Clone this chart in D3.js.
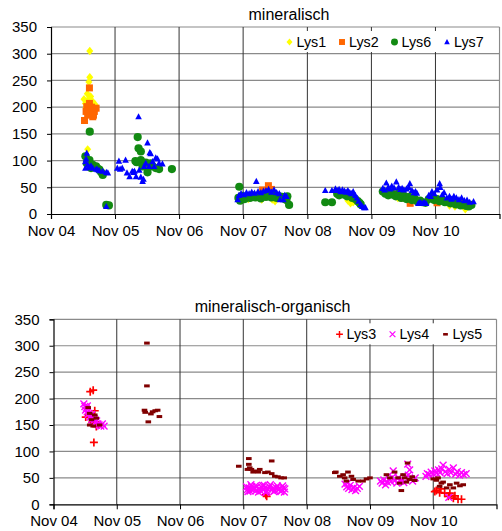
<!DOCTYPE html>
<html>
<head>
<meta charset="utf-8">
<script src="https://cdn.jsdelivr.net/npm/d3@7"></script>
<style>
  body { margin: 0; background: #fff; }
  text { font-family: "Liberation Sans", Arial, sans-serif; fill: #000; }
</style>
</head>
<body>
<svg id="chart" width="502" height="531"></svg>
<script>
'use strict';

// tick labels / axis values
var xTickDates = ['2004-11-01', '2005-11-01', '2006-11-01', '2007-11-01', '2008-11-01', '2009-11-01', '2010-11-01'];
var yTicks = [0, 50, 100, 150, 200, 250, 300, 350];

// mineralisch
var lys1 = [
  ['2005-06-10', 305], ['2005-06-10', 256], ['2005-06-05', 247], ['2005-05-27', 225], ['2005-05-08', 215],
  ['2005-05-29', 213], ['2005-06-27', 210], ['2005-05-16', 207], ['2005-07-06', 201], ['2005-06-15', 220],
  ['2005-05-29', 121], ['2005-07-10', 205], ['2005-05-20', 200],
  ['2007-12-01', 28], ['2008-02-15', 27], ['2008-04-15', 27], ['2008-05-01', 24],
  ['2009-06-20', 25], ['2009-07-05', 20], ['2009-07-20', 22],
  ['2010-04-01', 30], ['2010-06-15', 24],
  ['2011-01-20', 16], ['2011-02-20', 14], ['2011-04-20', 9]
];
var lys2 = [
  ['2005-06-08', 236], ['2005-05-11', 175], ['2005-05-24', 201], ['2005-06-05', 195], ['2005-06-17', 188],
  ['2005-07-06', 192], ['2005-06-27', 182], ['2005-05-29', 185], ['2005-07-16', 198], ['2005-06-08', 207],
  ['2005-05-20', 192], ['2005-06-20', 200], ['2005-07-01', 185],
  ['2008-02-20', 45], ['2008-03-24', 53], ['2008-04-10', 46],
  ['2010-03-01', 38], ['2010-05-01', 30], ['2010-06-10', 20],
  ['2010-11-10', 21], ['2011-01-15', 25], ['2011-03-20', 22]
];
var lys6 = [
  ['2005-06-10', 154], ['2005-05-16', 108], ['2005-05-24', 95], ['2005-06-08', 101], ['2005-06-27', 92],
  ['2005-07-16', 89], ['2005-08-04', 83], ['2005-08-23', 73], ['2005-06-17', 86], ['2005-09-12', 17],
  ['2005-09-27', 16], ['2005-07-25', 85], ['2005-08-14', 78],
  ['2006-03-10', 144], ['2006-03-15', 123], ['2006-03-28', 117], ['2006-03-04', 97], ['2006-03-28', 101],
  ['2006-04-25', 96], ['2006-05-23', 95], ['2006-06-21', 86], ['2006-07-10', 84], ['2006-05-05', 78],
  ['2006-09-21', 84], ['2006-04-07', 89], ['2006-05-23', 89], ['2006-02-25', 99], ['2006-06-01', 90],
  ['2007-10-10', 51], ['2007-10-05', 30], ['2007-10-15', 25], ['2007-10-25', 34], ['2007-11-10', 28],
  ['2007-11-25', 33], ['2007-12-10', 30], ['2007-12-25', 35], ['2008-01-10', 31], ['2008-01-25', 34],
  ['2008-02-10', 29], ['2008-02-25', 35], ['2008-03-10', 32], ['2008-03-25', 36], ['2008-04-10', 31],
  ['2008-04-25', 34], ['2008-05-10', 30], ['2008-05-25', 33], ['2008-06-10', 32], ['2008-06-25', 28],
  ['2008-07-10', 33], ['2008-07-20', 17], ['2008-07-05', 26],
  ['2009-02-11', 22], ['2009-03-21', 22], ['2009-04-20', 38], ['2009-05-01', 35], ['2009-05-15', 38],
  ['2009-06-01', 36], ['2009-06-15', 33], ['2009-07-01', 35], ['2009-07-15', 30], ['2009-08-01', 28],
  ['2009-08-15', 24], ['2009-09-01', 18], ['2009-08-25', 21],
  ['2010-01-05', 42], ['2010-01-20', 38], ['2010-02-05', 35], ['2010-02-20', 40], ['2010-03-05', 36],
  ['2010-03-20', 33], ['2010-04-05', 38], ['2010-04-20', 30], ['2010-05-05', 34], ['2010-05-20', 28],
  ['2010-06-05', 32], ['2010-06-20', 26], ['2010-07-05', 29], ['2010-07-20', 24], ['2010-08-05', 25],
  ['2010-08-20', 22], ['2010-09-05', 21],
  ['2010-09-24', 28], ['2010-10-10', 30], ['2010-10-25', 26], ['2010-11-10', 28], ['2010-11-25', 24],
  ['2010-12-10', 26], ['2010-12-25', 22], ['2011-01-10', 24], ['2011-01-25', 20], ['2011-02-10', 22],
  ['2011-02-25', 18], ['2011-03-10', 20], ['2011-03-25', 16], ['2011-04-10', 18], ['2011-04-25', 15],
  ['2011-05-10', 14], ['2011-05-25', 17]
];
var lys7 = [
  ['2005-05-24', 114], ['2005-05-16', 98], ['2005-05-29', 92], ['2005-06-08', 87], ['2005-06-27', 86],
  ['2005-07-16', 84], ['2005-08-04', 81], ['2005-08-23', 80], ['2005-09-12', 78], ['2005-09-21', 77],
  ['2005-05-16', 86], ['2005-09-12', 14], ['2005-06-17', 90], ['2005-07-25', 83], ['2005-05-20', 103],
  ['2005-11-14', 86], ['2005-11-23', 99], ['2005-12-12', 86], ['2005-12-31', 101], ['2006-01-08', 77],
  ['2006-01-23', 70], ['2006-02-07', 80], ['2006-02-20', 80], ['2006-03-01', 70], ['2006-03-15', 182],
  ['2006-03-19', 82], ['2006-03-28', 69], ['2006-04-07', 61], ['2006-04-12', 65], ['2006-04-25', 95],
  ['2006-05-05', 133], ['2006-05-18', 115], ['2006-05-23', 113], ['2006-06-03', 98], ['2006-06-21', 105],
  ['2006-07-10', 95], ['2006-07-29', 94], ['2006-04-16', 89], ['2006-05-14', 89], ['2006-06-12', 89],
  ['2006-07-01', 103], ['2005-11-30', 84], ['2006-02-14', 78],
  ['2007-10-01', 27], ['2007-10-08', 35], ['2007-10-20', 38], ['2007-11-05', 36], ['2007-11-20', 40],
  ['2007-12-05', 38], ['2007-12-20', 41], ['2008-01-05', 39], ['2008-01-15', 61], ['2008-01-25', 42],
  ['2008-02-10', 40], ['2008-02-25', 43], ['2008-03-10', 44], ['2008-03-25', 46], ['2008-04-10', 41],
  ['2008-04-25', 45], ['2008-05-10', 40], ['2008-05-25', 38], ['2008-05-29', 27], ['2008-06-17', 27],
  ['2008-06-25', 35], ['2008-07-05', 33],
  ['2009-02-11', 44], ['2009-03-21', 44], ['2009-04-10', 47], ['2009-04-20', 44], ['2009-05-01', 46],
  ['2009-05-10', 42], ['2009-05-20', 45], ['2009-06-01', 43], ['2009-06-10', 41], ['2009-06-20', 44],
  ['2009-07-01', 40], ['2009-07-10', 38], ['2009-07-20', 42], ['2009-08-01', 35], ['2009-08-10', 30],
  ['2009-08-20', 24], ['2009-09-01', 18], ['2009-09-10', 14], ['2009-09-20', 12], ['2009-09-28', 12],
  ['2010-01-05', 48], ['2010-01-15', 45], ['2010-01-25', 58], ['2010-02-05', 50], ['2010-02-15', 47],
  ['2010-02-25', 52], ['2010-03-10', 49], ['2010-03-23', 60], ['2010-04-05', 50], ['2010-04-15', 46],
  ['2010-04-25', 48], ['2010-05-05', 45], ['2010-05-20', 47], ['2010-06-01', 50], ['2010-06-08', 57],
  ['2010-06-20', 44], ['2010-07-01', 40], ['2010-07-10', 42], ['2010-07-18', 39], ['2010-07-26', 20],
  ['2010-08-05', 22], ['2010-08-16', 20], ['2010-08-28', 22], ['2010-09-08', 20],
  ['2010-09-24', 35], ['2010-10-05', 33], ['2010-10-12', 42], ['2010-10-25', 38], ['2010-11-10', 45],
  ['2010-11-25', 57], ['2010-11-28', 50], ['2010-12-10', 36], ['2010-12-20', 40], ['2011-01-05', 30],
  ['2011-01-20', 33], ['2011-02-01', 28], ['2011-02-14', 33], ['2011-02-28', 30], ['2011-03-15', 27],
  ['2011-03-30', 30], ['2011-04-15', 25], ['2011-04-30', 26], ['2011-05-15', 22], ['2011-06-06', 23]
];

// mineralisch-organisch
var lys3 = [
  ['2005-06-18', 216], ['2005-06-01', 213], ['2005-06-22', 117], ['2005-05-06', 165], ['2005-06-27', 177],
  ['2005-07-06', 147], ['2005-06-12', 155], ['2005-07-20', 150],
  ['2008-03-10', 18], ['2008-03-15', 15],
  ['2010-11-10', 24], ['2010-11-19', 26], ['2010-12-08', 22], ['2010-12-15', 29], ['2011-01-06', 21],
  ['2011-01-27', 15], ['2011-02-05', 21], ['2011-02-25', 11.5], ['2011-03-06', 16], ['2011-03-24', 9.6],
  ['2011-04-13', 9.6]
];
var lys4 = [
  ['2005-04-25', 190], ['2005-05-01', 185], ['2005-05-05', 178], ['2005-05-10', 182], ['2005-05-15', 175],
  ['2005-05-20', 170], ['2005-05-25', 172], ['2005-06-01', 165], ['2005-06-05', 168], ['2005-06-10', 160],
  ['2005-06-15', 163], ['2005-06-20', 158], ['2005-06-25', 162], ['2005-07-01', 155], ['2005-07-08', 158],
  ['2005-07-15', 152], ['2005-07-22', 150], ['2005-08-01', 148], ['2005-08-10', 152], ['2005-08-20', 148],
  ['2005-05-15', 186], ['2005-06-10', 170],
  ['2007-11-20', 33], ['2007-11-25', 28], ['2007-12-05', 31], ['2007-12-10', 25], ['2007-12-20', 34],
  ['2007-12-28', 28], ['2008-01-05', 30], ['2008-01-15', 26], ['2008-01-20', 33], ['2008-02-01', 29],
  ['2008-02-10', 25], ['2008-02-15', 32], ['2008-02-25', 28], ['2008-03-05', 31], ['2008-03-15', 25],
  ['2008-03-20', 29], ['2008-04-01', 33], ['2008-04-10', 27], ['2008-04-20', 30], ['2008-05-01', 26],
  ['2008-05-10', 31], ['2008-05-20', 28], ['2008-06-01', 30], ['2008-06-10', 27], ['2008-06-20', 31],
  ['2008-06-28', 29], ['2007-12-15', 37], ['2008-03-01', 36],
  ['2007-11-28', 24], ['2007-12-15', 29], ['2008-01-10', 35], ['2008-01-28', 23], ['2008-02-20', 36],
  ['2008-03-10', 22], ['2008-04-05', 37], ['2008-04-25', 24], ['2008-05-15', 35], ['2008-06-05', 24],
  ['2008-06-15', 35], ['2008-06-25', 23],
  ['2009-06-10', 38], ['2009-06-20', 33], ['2009-07-01', 30], ['2009-07-10', 36], ['2009-07-20', 28],
  ['2009-08-01', 32], ['2009-08-10', 26], ['2009-08-20', 30], ['2009-09-01', 34], ['2009-06-25', 40],
  ['2010-01-01', 44], ['2010-01-10', 40], ['2010-01-20', 46], ['2010-01-30', 37], ['2010-02-10', 42],
  ['2010-02-20', 48], ['2010-03-01', 43], ['2010-03-15', 63], ['2010-03-10', 51], ['2010-03-25', 45],
  ['2010-04-05', 40], ['2010-04-15', 50], ['2010-04-25', 44], ['2010-05-05', 47], ['2010-05-15', 41],
  ['2010-05-25', 52], ['2010-06-07', 76], ['2010-06-18', 65], ['2010-06-10', 55], ['2010-06-25', 48],
  ['2010-07-05', 44], ['2010-07-20', 50],
  ['2010-09-20', 53], ['2010-09-28', 58], ['2010-10-10', 56], ['2010-10-20', 61], ['2010-11-01', 57],
  ['2010-11-10', 63], ['2010-11-20', 59], ['2010-12-01', 65], ['2010-12-10', 60], ['2010-12-20', 67],
  ['2010-12-28', 74], ['2011-01-10', 62], ['2011-01-20', 58], ['2011-02-01', 66], ['2011-02-10', 60],
  ['2011-02-25', 69], ['2011-03-10', 57], ['2011-03-20', 62], ['2011-04-01', 55], ['2011-04-13', 60],
  ['2011-04-25', 56], ['2011-05-10', 58], ['2011-01-30', 13]
];
var lys5 = [
  ['2005-05-20', 183], ['2005-05-29', 172], ['2005-06-27', 169], ['2005-05-29', 150], ['2005-06-18', 148],
  ['2005-07-25', 150], ['2005-06-08', 160], ['2005-07-06', 163],
  ['2006-04-24', 305], ['2006-04-24', 224], ['2006-04-10', 178], ['2006-04-14', 174], ['2006-05-17', 171],
  ['2006-05-27', 175], ['2006-06-11', 177], ['2006-06-25', 178], ['2006-05-02', 156], ['2006-07-05', 166],
  ['2007-10-06', 72], ['2007-12-03', 86.5], ['2007-12-03', 75.6], ['2007-12-08', 69], ['2007-11-25', 66],
  ['2007-12-18', 66], ['2007-12-28', 61], ['2008-01-06', 63], ['2008-01-27', 61], ['2008-02-04', 66],
  ['2008-03-05', 60], ['2008-04-13', 82], ['2008-04-13', 58], ['2008-05-01', 53], ['2008-05-19', 52],
  ['2008-06-06', 50], ['2008-06-24', 50], ['2008-03-22', 61],
  ['2009-04-12', 60], ['2009-04-18', 61], ['2009-05-11', 53], ['2009-05-30', 56], ['2009-06-08', 50],
  ['2009-06-18', 44], ['2009-06-27', 61], ['2009-07-17', 53], ['2009-07-27', 47], ['2009-08-25', 44],
  ['2009-09-22', 44], ['2009-10-12', 48], ['2009-11-01', 50],
  ['2010-02-04', 56], ['2010-02-24', 50], ['2010-03-23', 61], ['2010-04-12', 50], ['2010-04-21', 40],
  ['2010-05-01', 26], ['2010-05-11', 56], ['2010-05-20', 50], ['2010-05-30', 42], ['2010-06-06', 78],
  ['2010-06-18', 47], ['2010-07-03', 52], ['2010-07-17', 45],
  ['2010-11-01', 48], ['2010-11-19', 45.5], ['2010-11-29', 50], ['2010-12-08', 34], ['2010-12-18', 40],
  ['2010-12-28', 42], ['2011-01-17', 31], ['2011-02-05', 37], ['2011-02-25', 31], ['2011-03-16', 40],
  ['2011-04-04', 35], ['2011-04-23', 37]
];

var parse = d3.timeParse('%Y-%m-%d');
var svg = d3.select('#chart');

// marker shapes
var shapes = {
  diamond: function (s) { s.append('path').attr('d', 'M0,-4.2L3.5,0L0,4.2L-3.5,0Z'); },
  square: function (s) { s.append('rect').attr('x', -3.5).attr('y', -3.5).attr('width', 7).attr('height', 7); },
  circle: function (s) { s.append('circle').attr('r', 4.1); },
  triangle: function (s) { s.append('path').attr('d', 'M0,-3.6L3.3,2.6L-3.3,2.6Z'); },
  plus: function (s) { s.append('path').attr('d', 'M-4,0H4M0,-4V4').attr('stroke-width', 1.7).attr('fill', 'none'); },
  cross: function (s) { s.append('path').attr('d', 'M-3.4,-3.4L3.4,3.4M-3.4,3.4L3.4,-3.4').attr('stroke-width', 1.4).attr('fill', 'none'); },
  dash: function (s) { s.append('rect').attr('x', -2.8).attr('y', -1.5).attr('width', 5.6).attr('height', 3); }
};

function marker(sel, shape, color) {
  sel.each(function () {
    var g = d3.select(this);
    shapes[shape](g);
    g.selectAll('*').attr('fill', function () {
      return d3.select(this).attr('fill') === 'none' ? 'none' : color;
    }).attr('stroke', (shape === 'plus' || shape === 'cross') ? color : 'none');
  });
}

function panel(opt) {
  var g = svg.append('g');
  var x = d3.scaleTime()
    .domain([parse('2004-11-01'), parse('2011-11-01')])
    .range([opt.left, opt.right]);
  var y = d3.scaleLinear().domain([0, 350]).range([opt.bottom, opt.top]);
  var xt = xTickDates.map(parse);

  // grid
  g.selectAll('.hgrid').data(yTicks.slice(1)).join('line')
    .attr('x1', opt.left).attr('x2', opt.right)
    .attr('y1', function (d) { return y(d); }).attr('y2', function (d) { return y(d); })
    .attr('stroke', '#8a8a8a').attr('stroke-width', 1.2);
  g.selectAll('.vgrid').data(xt.slice(1)).join('line')
    .attr('x1', function (d) { return x(d); }).attr('x2', function (d) { return x(d); })
    .attr('y1', opt.top).attr('y2', opt.bottom)
    .attr('stroke', '#333').attr('stroke-width', 1);
  g.append('line').attr('x1', opt.right).attr('x2', opt.right)
    .attr('y1', opt.top).attr('y2', opt.bottom).attr('stroke', '#8a8a8a').attr('stroke-width', 1.2);

  // title
  g.append('text').attr('x', opt.titleX).attr('y', opt.top - 7)
    .attr('text-anchor', 'middle').style('font-size', '16px').text(opt.title);

  // legend
  var lg = g.append('g');
  lg.append('rect').attr('x', opt.legend.x0).attr('y', opt.top + 4)
    .attr('width', opt.right - opt.legend.x0 - 1).attr('height', 21).attr('fill', '#fff');
  var items = lg.selectAll('.item').data(opt.series).join('g')
    .attr('transform', function (d, i) {
      return 'translate(' + (opt.legend.x1 + i * opt.legend.step) + ',' + (opt.top + 15) + ')';
    });
  items.each(function (d) {
    var it = d3.select(this);
    it.append('g').attr('transform', 'scale(0.85)').call(marker, d.shape, d.color);
    it.append('text').attr('x', opt.legend.gap).attr('y', 4.5)
      .style('font-size', '14.3px').text(d.name);
  });

  // points
  opt.series.forEach(function (s) {
    g.append('g').selectAll('g').data(s.data).join('g')
      .attr('transform', function (d) {
        return 'translate(' + x(parse(d[0])) + ',' + y(d[1]) + ')';
      })
      .call(marker, s.shape, s.color);
  });

  // axes
  var ya = g.append('g').attr('transform', 'translate(' + opt.left + ',0)')
    .call(d3.axisLeft(y).tickValues(yTicks).tickSize(4).tickPadding(10));
  var xa = g.append('g').attr('transform', 'translate(0,' + opt.bottom + ')')
    .call(d3.axisBottom(x).tickValues(xt).tickFormat(d3.timeFormat('%b %y')).tickSize(5).tickPadding(6));
  [ya, xa].forEach(function (a) {
    a.select('.domain').attr('stroke', '#000').attr('stroke-width', 1.2);
    a.selectAll('.tick line').attr('stroke', '#000');
    a.selectAll('text').style('font-size', '15px').style('font-family', '"Liberation Sans", Arial, sans-serif');
  });
}

panel({
  title: 'mineralisch', titleX: 289,
  left: 51, right: 499.5, top: 27, bottom: 214,
  legend: { x0: 256, x1: 289.5, step: 52.5, gap: 7 },
  series: [
    { name: 'Lys1', data: lys1, shape: 'diamond', color: '#ffff00' },
    { name: 'Lys2', data: lys2, shape: 'square', color: '#ff6600' },
    { name: 'Lys6', data: lys6, shape: 'circle', color: '#128a12' },
    { name: 'Lys7', data: lys7, shape: 'triangle', color: '#0000ff' }
  ]
});

panel({
  title: 'mineralisch-organisch', titleX: 272.5,
  left: 53.5, right: 496.5, top: 319.3, bottom: 504.3,
  legend: { x0: 334, x1: 339.5, step: 53, gap: 7 },
  series: [
    { name: 'Lys3', data: lys3, shape: 'plus', color: '#ff0000' },
    { name: 'Lys4', data: lys4, shape: 'cross', color: '#ff00ff' },
    { name: 'Lys5', data: lys5, shape: 'dash', color: '#800000' }
  ]
});
</script>
</body>
</html>
